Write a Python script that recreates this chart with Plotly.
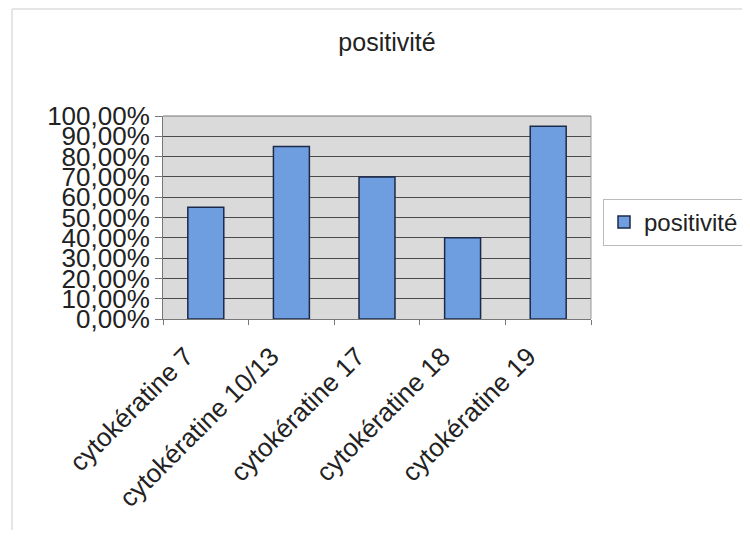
import plotly.graph_objects as go

categories = ["cytokératine 7", "cytokératine 10/13", "cytokératine 17", "cytokératine 18", "cytokératine 19"]
values = [0.55, 0.85, 0.70, 0.40, 0.95]
series_name = "positivité"
title_text = "positivité"

# page has an 8px body margin; figure sized so the page is exactly 750x538
OFF = 8
W, H = 750 - 2 * OFF, 538 - 2 * OFF
L, T = 163 - OFF, 116 - OFF
R = W - (591 - OFF)
B = H - (319 - OFF)
pw, ph = W - L - R, H - T - B


def px_x(x):
    return (x - OFF - L) / pw


def px_y(y):
    return (H - B - (y - OFF)) / ph


fig = go.Figure()
fig.add_trace(go.Bar(
    x=categories, y=values, name=series_name,
    marker=dict(color="#6e9ee0", line=dict(color="#1c2a48", width=1.5)),
    width=0.42, showlegend=True,
))

fig.update_layout(
    width=W, height=H,
    margin=dict(l=L, r=R, t=T, b=B, autoexpand=False),
    paper_bgcolor="white",
    plot_bgcolor="#dadada",
    separators=", ",
    font=dict(family="Liberation Sans, Arial, sans-serif", color="#222222"),
    title=dict(text=title_text, x=(387 - OFF) / W, xanchor="center",
               y=1 - (42 - OFF) / H, yanchor="middle",
               font=dict(size=25, color="#222222")),
    showlegend=True,
    legend=dict(x=px_x(603), y=px_y(199), xanchor="left", yanchor="top",
                bordercolor="#bbbbbb", borderwidth=1, bgcolor="white",
                font=dict(size=24, color="#222222"), itemwidth=30),
    shapes=[
        dict(type="line", xref="paper", yref="paper", x0=px_x(12), x1=px_x(750), y0=px_y(9), y1=px_y(9),
             line=dict(color="#dddddd", width=1.5)),
        dict(type="line", xref="paper", yref="paper", x0=px_x(12), x1=px_x(12), y0=px_y(9), y1=px_y(538),
             line=dict(color="#dddddd", width=1.5)),
        dict(type="line", xref="paper", yref="paper", x0=1, x1=1, y0=0, y1=1,
             line=dict(color="#999999", width=1)),
        dict(type="line", xref="paper", yref="paper", x0=0, x1=1, y0=1, y1=1,
             line=dict(color="#777777", width=1)),
    ],
)
fig.update_yaxes(
    range=[0, 1], dtick=0.1, tickformat=".2%", automargin=False,
    showgrid=True, gridcolor="#4a4a4a", gridwidth=1,
    showline=True, linecolor="#777777", linewidth=1,
    ticks="outside", ticklen=7, tickcolor="#777777",
    tickfont=dict(size=26, color="#222222"),
    zeroline=False,
)
fig.update_xaxes(
    tickangle=-45, tickfont=dict(size=26, color="#222222"), automargin=False,
    showline=True, linecolor="#777777", linewidth=1,
    ticks="outside", ticklen=5, tickcolor="#777777", tickson="boundaries",
    ticklabelstandoff=11, ticklabelshift=-20,
    showgrid=False,
)

fig.write_html("out.html")
